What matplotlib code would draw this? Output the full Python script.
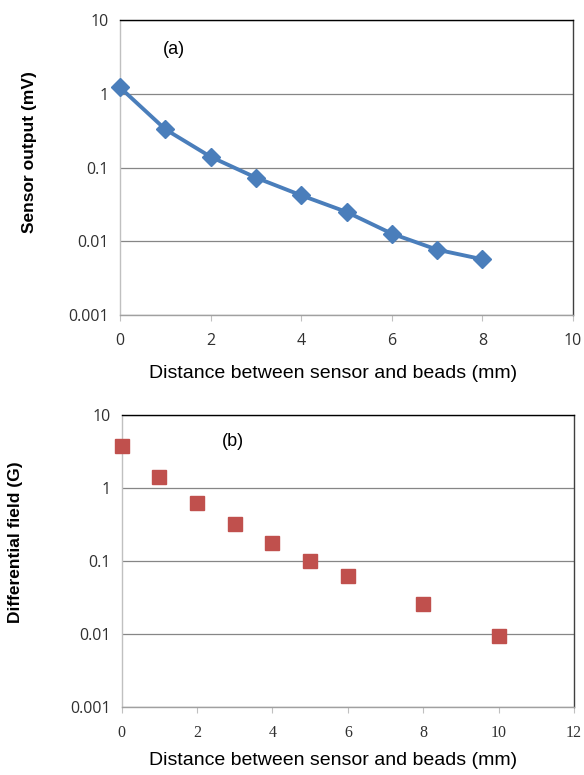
import matplotlib
matplotlib.use("Agg")
import matplotlib.pyplot as plt
from matplotlib.ticker import FixedLocator, FixedFormatter, NullLocator

# (a) sensor output vs distance
dist_a = [0, 1, 2, 3, 4, 5, 6, 7, 8]
output_mv = [1.22, 0.33, 0.14, 0.073, 0.042, 0.025, 0.0127, 0.0077, 0.0057]

# (b) differential field vs distance
dist_b = [0, 1, 2, 3, 4, 5, 6, 8, 10]
field_g = [3.76, 1.43, 0.63, 0.32, 0.178, 0.100, 0.063, 0.026, 0.0092]

ytick_vals = [0.001, 0.01, 0.1, 1, 10]
ytick_labels = ["0.001", "0.01", "0.1", "1", "10"]

xlabel = "Distance between sensor and beads (mm)"


def style_axes(ax, xmax, xtick_font):
    ax.set_yscale("log")
    ax.set_ylim(0.001, 10)
    ax.set_xlim(0, xmax)
    ax.yaxis.set_major_locator(FixedLocator(ytick_vals))
    ax.yaxis.set_major_formatter(FixedFormatter(ytick_labels))
    ax.yaxis.set_minor_locator(NullLocator())
    ax.set_xticks(range(0, xmax + 1, 2))
    ax.grid(axis="y", color="#868686", linewidth=0.9)
    ax.set_axisbelow(True)
    ax.spines["top"].set_color("black")
    ax.spines["right"].set_color("#404040")
    ax.spines["left"].set_color("#c0c0c0")
    ax.spines["bottom"].set_color("#a0a0a0")
    for s in ax.spines.values():
        s.set_linewidth(1.0)
    ax.tick_params(axis="y", length=0, pad=8, labelsize=11.5, labelcolor="#303030")
    ax.tick_params(axis="x", length=4, color="#c0c0c0", pad=9,
                   labelsize=11.5, labelcolor="#303030")
    for lab in ax.get_yticklabels():
        lab.set_family("Open Sans")
    for lab in ax.get_xticklabels():
        lab.set_family(xtick_font)
    ax.set_xlabel(xlabel, family="Liberation Sans", fontsize=14, labelpad=10)


fig = plt.figure(figsize=(5.84, 7.75), dpi=100)

ax1 = fig.add_axes([0.2055, 0.5935, 0.7757, 0.3806])
ax1.plot(dist_a, output_mv, color="#4a7ebb", linewidth=2.8,
         marker="D", markersize=9, markerfacecolor="#4a7ebb",
         markeredgecolor="#4a7ebb", clip_on=False, zorder=3)
style_axes(ax1, 10, "Open Sans")
ax1.set_ylabel("Sensor output (mV)", family="Liberation Sans",
               fontweight="bold", fontsize=12.5)
ax1.yaxis.set_label_coords(-0.183, 0.553)
ax1.xaxis.set_label_coords(0.471, -0.17)
ax1.text(0.12, 0.9, "(a)", transform=ax1.transAxes, ha="center", va="center",
         family="Liberation Sans", fontsize=13)

ax2 = fig.add_axes([0.2084, 0.0881, 0.7745, 0.3764])
ax2.plot(dist_b, field_g, linestyle="none", marker="s", markersize=10,
         color="#c0504d", markeredgecolor="#c0504d", clip_on=False, zorder=3)
style_axes(ax2, 12, "Liberation Serif")
ax2.set_ylabel("Differential field (G)", family="Liberation Sans",
               fontweight="bold", fontsize=12.5)
ax2.yaxis.set_label_coords(-0.218, 0.563)
ax2.xaxis.set_label_coords(0.468, -0.155)
ax2.text(0.246, 0.908, "(b)", transform=ax2.transAxes, ha="center", va="center",
         family="Liberation Sans", fontsize=13)

fig.savefig("out.png", dpi=100)
